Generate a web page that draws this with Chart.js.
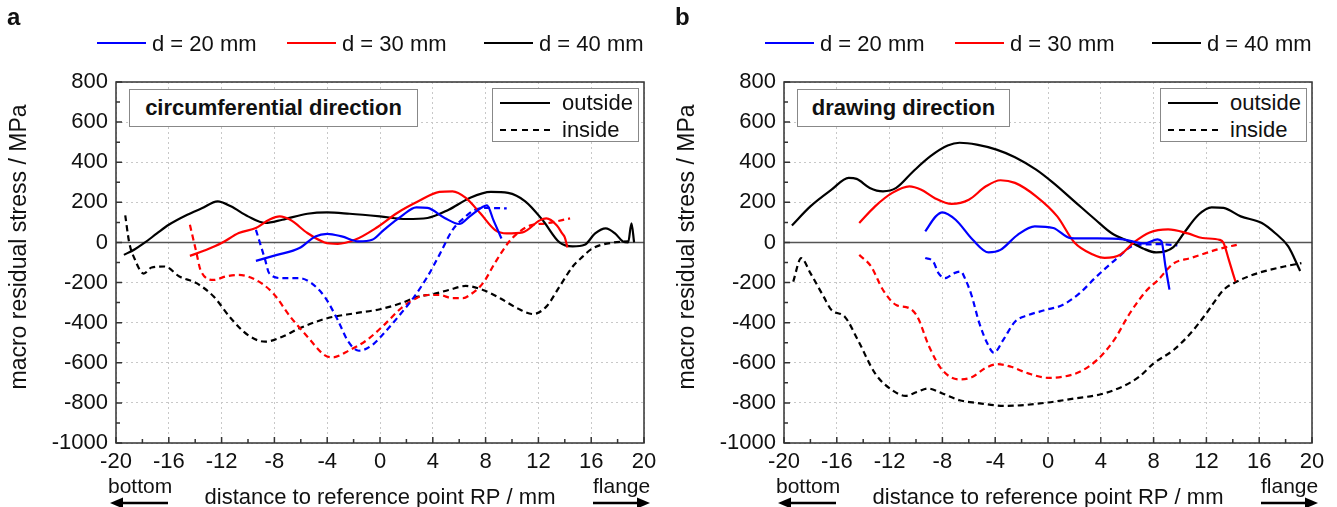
<!DOCTYPE html>
<html>
<head>
<meta charset="utf-8">
<script src="https://cdn.jsdelivr.net/npm/chart.js@4.4.1/dist/chart.umd.min.js"></script>
<style>
  body { margin: 0; background: #fff; font-family: "Liberation Sans", Arial, sans-serif; color: #111; }
  #wrap { position: relative; width: 1337px; height: 507px; overflow: hidden; }
  .panel { position: absolute; top: 0; width: 668px; height: 507px; }
  .panel canvas { position: absolute; left: 0; top: 0; }
  .t { position: absolute; white-space: nowrap; font-size: 22px; line-height: 22px; }
  .letter { font-weight: bold; font-size: 24px; }
  .key { position: absolute; height: 0; border-top: 2.5px solid #000; }
  .box { position: absolute; border: 1px solid #888; background: #fff; }
  .ytitle { position: absolute; white-space: nowrap; font-size: 23px; transform: translate(-50%, -50%) rotate(-90deg); }
  svg { position: absolute; }
</style>
</head>
<body>
<div id="wrap">
  <div class="panel" id="pa" style="left:0"><canvas id="chartA" width="668" height="507"></canvas></div>
  <div class="panel" id="pb" style="left:668px"><canvas id="chartB" width="668" height="507"></canvas></div>
</div>
<script>
// tick labels / axis ranges
const xTicks = [-20, -16, -12, -8, -4, 0, 4, 8, 12, 16, 20];
const yTicks = [800, 600, 400, 200, 0, -200, -400, -600, -800, -1000];
const seriesNames = ['d = 20 mm', 'd = 30 mm', 'd = 40 mm'];
const seriesColors = ['#0000ff', '#ff0000', '#000000'];

// (a) circumferential direction
const circ20OutX = [-9.4, -7.8, -6.1, -4.9, -4, -2.9, -1.6, -0.6, 0.3, 1.6, 2.75, 3.6, 4.9, 6, 6.8, 7.8, 8.1, 8.6, 9.2];
const circ20OutY = [-92, -62, -28, 30, 43, 30, 5, 13, 63, 130, 175, 172, 122, 92, 130, 178, 185, 110, 20];
const circ30OutX = [-14.4, -13.3, -12, -10.7, -9.4, -8.4, -7.6, -6.8, -5.5, -4.2, -3.2, -1.9, -0.3, 1.3, 2.9, 4.5, 5.5, 6.5, 7.6, 8.7, 9.6, 10.8, 12.1, 12.6, 13.4, 13.8, 14.0, 14.2];
const circ30OutY = [-67, -40, -3, 47, 72, 113, 130, 113, 47, 0, -7, 13, 72, 147, 205, 252, 255, 222, 145, 63, 45, 50, 110, 120, 85, 45, 25, -25];
const circ40OutX = [-19.4, -18.6, -17.8, -16.9, -16, -14.6, -13.5, -12.3, -11.3, -10, -8.7, -7.4, -5.5, -4, -2.3, 0, 2, 3.6, 5.2, 6.8, 8.4, 9.7, 11, 12.3, 13.6, 14.6, 15.5, 16.3, 17.1, 17.8, 18.4, 18.8, 19.05, 19.25];
const circ40OutY = [-62, -35, 0, 45, 88, 138, 170, 205, 180, 130, 97, 113, 143, 150, 143, 130, 117, 122, 163, 222, 252, 247, 205, 113, 0, -20, -12, 45, 70, 45, 5, 0, 95, 0];
const circ20InX = [-9.4, -8.7, -8.4, -7.4, -6.1, -5.2, -4.2, -3.2, -2.4, -1.6, -0.6, 0.3, 1.6, 2.6, 3.6, 4.5, 5.5, 6.5, 7.1, 8.1, 9.6];
const circ20InY = [63, -87, -153, -178, -178, -203, -270, -387, -495, -540, -512, -453, -353, -270, -170, -62, 63, 130, 160, 172, 170];
const circ30InX = [-14.4, -13.9, -13.6, -12.6, -11.7, -10.7, -9.4, -8.1, -6.8, -5.5, -4.2, -3.6, -2.3, -1, 0.3, 1.6, 2.75, 3.6, 4.5, 5.5, 6.3, 6.8, 7.8, 8.7, 9.7, 10.4, 11.4, 12.6, 14.4];
const circ30InY = [88, -53, -137, -187, -170, -162, -187, -253, -370, -470, -562, -573, -537, -487, -412, -328, -278, -262, -262, -278, -278, -262, -203, -103, -3, 45, 85, 95, 120];
const circ40InX = [-19.3, -19.0, -18.6, -17.9, -17.3, -16.3, -15.2, -13.9, -12.6, -11.3, -10, -8.7, -7.4, -6.1, -4, -1.9, 0, 1.6, 2.9, 4, 5.2, 6.5, 7.8, 9.1, 10.4, 11.6, 12.6, 13.6, 14.6, 15.2, 16.1, 17.7, 18.8];
const circ40InY = [135, 0, -80, -155, -125, -120, -170, -203, -270, -378, -462, -495, -470, -428, -378, -353, -333, -303, -270, -258, -237, -217, -237, -278, -328, -357, -320, -220, -120, -80, -30, 0, 5];

// (b) drawing direction
const draw20OutX = [-9.3, -8.5, -8, -7, -5.7, -4.5, -3.6, -2.3, -1, 0.4, 1.7, 3.6, 5.7, 7.3, 8.3, 8.6, 8.9, 9.2];
const draw20OutY = [55, 130, 150, 113, 13, -50, -37, 38, 80, 72, 22, 20, 15, -5, 15, 5, -120, -235];
const draw30OutX = [-14.3, -13.1, -11.8, -10.5, -9.6, -8.6, -7.3, -6, -4.7, -3.6, -2.5, -0.9, 0.7, 2.0, 3.4, 4.3, 5.5, 6.5, 7.7, 9.1, 10.6, 11.7, 13.0, 13.3, 13.7, 14.2];
const draw30OutY = [97, 180, 247, 280, 263, 222, 192, 213, 280, 310, 297, 230, 130, 0, -60, -77, -60, 0, 50, 65, 45, 22, 13, -3, -87, -195];
const draw40OutX = [-19.4, -18, -16.4, -15.1, -14.5, -13.5, -12.5, -11.5, -10.2, -8.9, -7.6, -6.7, -5.4, -3.9, -2.5, -0.9, 0.4, 2, 3.6, 4.8, 6.3, 7.2, 8.2, 9.5, 10.3, 11.4, 12.4, 13.3, 14.6, 16.2, 17.2, 18.2, 19.1];
const draw40OutY = [85, 180, 263, 322, 317, 272, 255, 272, 355, 430, 483, 497, 488, 463, 425, 363, 297, 205, 113, 47, 0, -30, -50, -23, 47, 138, 175, 172, 130, 97, 47, -20, -142];
const draw20InX = [-9.3, -8.7, -8.3, -7.8, -7.1, -6.6, -6.3, -5.8, -5.2, -4.6, -4.1, -3.4, -2.5, -1.5, -0.2, 1.1, 2.4, 3.6, 5.3, 6.5, 7.5, 8.5, 9.8];
const draw20InY = [-78, -95, -153, -178, -153, -145, -178, -262, -403, -503, -550, -487, -395, -362, -337, -312, -253, -175, -75, -15, -10, -8, -15];
const draw30InX = [-14.3, -13.4, -12.5, -11.5, -10.5, -9.9, -9, -8, -6.7, -5.7, -4.8, -3.8, -2.8, -1.5, 0, 1.1, 2.4, 3.7, 5, 6.2, 7.5, 8.3, 9.5, 10.8, 13.1, 14.3];
const draw30InY = [-62, -120, -237, -312, -328, -370, -520, -637, -683, -670, -628, -607, -620, -653, -675, -670, -645, -587, -487, -353, -237, -190, -105, -78, -30, -12];
const draw40InX = [-19.3, -18.7, -18, -17, -16.4, -15.4, -14.4, -13.1, -11.8, -10.8, -9.9, -9.1, -8, -6.7, -5.4, -3.2, 0, 2, 4, 5.6, 6.9, 8, 9.5, 10.8, 12, 13.3, 14.3, 15.9, 17.9, 19.2];
const draw40InY = [-195, -78, -153, -270, -337, -370, -487, -653, -737, -765, -745, -728, -753, -787, -800, -815, -798, -778, -757, -720, -670, -603, -537, -453, -353, -237, -195, -153, -120, -103];

const FONT = '"Liberation Sans", Arial, sans-serif';

function pts(xs, ys) {
  return xs.map((x, i) => ({ x: x, y: ys[i] }));
}

function line(xs, ys, color, dashed) {
  return {
    data: pts(xs, ys),
    borderColor: color,
    borderWidth: 2.2,
    borderDash: dashed ? [6, 4] : [],
    pointRadius: 0,
    fill: false,
    cubicInterpolationMode: 'monotone'
  };
}

// frame, zero line and inward tick marks
const framePlugin = {
  id: 'frame',
  beforeDatasetsDraw(chart) {
    const { ctx, chartArea: a, scales } = chart;
    const y0 = scales.y.getPixelForValue(0);
    ctx.save();
    ctx.strokeStyle = '#555';
    ctx.lineWidth = 1.5;
    ctx.beginPath();
    ctx.moveTo(a.left, y0);
    ctx.lineTo(a.right, y0);
    ctx.stroke();
    ctx.restore();
  },
  afterDraw(chart) {
    const { ctx, chartArea: a, scales } = chart;
    ctx.save();
    ctx.strokeStyle = '#333';
    ctx.lineWidth = 1.5;
    ctx.strokeRect(a.left, a.top, a.right - a.left, a.bottom - a.top);
    ctx.beginPath();
    for (let v = -20; v <= 20; v += 2) {
      const px = scales.x.getPixelForValue(v);
      const len = v % 4 === 0 ? 6 : 4;
      ctx.moveTo(px, a.bottom);
      ctx.lineTo(px, a.bottom - len);
    }
    for (let v = -1000; v <= 800; v += 100) {
      const py = scales.y.getPixelForValue(v);
      const len = v % 200 === 0 ? 6 : 4;
      ctx.moveTo(a.left, py);
      ctx.lineTo(a.left + len, py);
    }
    ctx.stroke();
    ctx.restore();
  }
};

function makeChart(id, datasets) {
  return new Chart(document.getElementById(id), {
    type: 'line',
    data: { datasets: datasets },
    options: {
      responsive: false,
      animation: false,
      layout: { padding: { top: 82, right: 24, left: 0, bottom: 0 } },
      plugins: { legend: { display: false }, tooltip: { enabled: false } },
      scales: {
        x: {
          type: 'linear',
          min: xTicks[0],
          max: xTicks[xTicks.length - 1],
          afterBuildTicks: s => { s.ticks = xTicks.map(v => ({ value: v })); },
          ticks: { color: '#111', padding: 6, font: { family: FONT, size: 22 }, callback: v => String(v) },
          grid: { color: '#c8c8c8', drawTicks: false, lineWidth: 1 },
          border: { display: false, dash: [2, 3] },
          title: {
            display: true,
            text: 'distance to reference point RP / mm',
            color: '#111',
            font: { family: FONT, size: 22, lineHeight: 0.8 },
            padding: { top: 0, bottom: 0 }
          },
          afterFit: s => { s.height = 64; }
        },
        y: {
          type: 'linear',
          min: yTicks[yTicks.length - 1],
          max: yTicks[0],
          afterBuildTicks: s => { s.ticks = yTicks.slice().reverse().map(v => ({ value: v })); },
          ticks: { color: '#111', padding: 8, font: { family: FONT, size: 22 }, callback: v => String(v) },
          grid: { color: '#c8c8c8', drawTicks: false, lineWidth: 1 },
          border: { display: false, dash: [2, 3] },
          afterFit: s => { s.width = 116; }
        }
      }
    },
    plugins: [framePlugin]
  });
}

makeChart('chartA', [
  line(circ20OutX, circ20OutY, seriesColors[0], false),
  line(circ30OutX, circ30OutY, seriesColors[1], false),
  line(circ40OutX, circ40OutY, seriesColors[2], false),
  line(circ20InX, circ20InY, seriesColors[0], true),
  line(circ30InX, circ30InY, seriesColors[1], true),
  line(circ40InX, circ40InY, seriesColors[2], true)
]);

makeChart('chartB', [
  line(draw20OutX, draw20OutY, seriesColors[0], false),
  line(draw30OutX, draw30OutY, seriesColors[1], false),
  line(draw40OutX, draw40OutY, seriesColors[2], false),
  line(draw20InX, draw20InY, seriesColors[0], true),
  line(draw30InX, draw30InY, seriesColors[1], true),
  line(draw40InX, draw40InY, seriesColors[2], true)
]);

// labels, legends and boxes around the plots
function el(parent, cls, css, text) {
  const d = document.createElement('div');
  d.className = cls;
  d.style.cssText = css;
  if (text) d.textContent = text;
  parent.appendChild(d);
  return d;
}

function decorate(panelId, letter, boxText, boxWidth) {
  const p = document.getElementById(panelId);
  el(p, 't letter', 'left:7px;top:6px', letter);

  const keyLeft = [97, 287, 484];
  seriesNames.forEach((name, i) => {
    el(p, 'key', `left:${keyLeft[i]}px;top:42px;width:49px;border-top-color:${seriesColors[i]}`);
    el(p, 't', `left:${keyLeft[i] + 55}px;top:33px`, name);
  });

  const b = el(p, 'box', `left:129px;top:89px;width:${boxWidth}px;height:36px`);
  el(b, 't', 'left:0;right:0;top:7px;text-align:center;font-weight:bold', boxText);

  el(p, 'box', 'left:492px;top:88px;width:145px;height:52px');
  el(p, 'key', 'left:500px;top:102px;width:50px');
  el(p, 'key', 'left:500px;top:129px;width:50px;border-top-style:dashed');
  el(p, 't', 'left:562px;top:92px', 'outside');
  el(p, 't', 'left:562px;top:119px', 'inside');

  el(p, 'ytitle', 'left:18px;top:247px', 'macro residual stress / MPa');

  el(p, 't', 'left:108px;top:475px;font-size:21px', 'bottom');
  el(p, 't', 'left:593px;top:475px;font-size:21px', 'flange');

  p.insertAdjacentHTML('beforeend',
    '<svg style="left:110px;top:496px" width="60" height="14">' +
    '<line x1="10" y1="7" x2="58" y2="7" stroke="#000" stroke-width="2.6"/>' +
    '<polygon points="0,7 13,1.5 13,12.5" fill="#000"/></svg>' +
    '<svg style="left:592px;top:496px" width="60" height="14">' +
    '<line x1="1" y1="7" x2="48" y2="7" stroke="#000" stroke-width="2.6"/>' +
    '<polygon points="58,7 45,1.5 45,12.5" fill="#000"/></svg>');
}

decorate('pa', 'a', 'circumferential direction', 287);
decorate('pb', 'b', 'drawing direction', 211);
</script>
</body>
</html>
